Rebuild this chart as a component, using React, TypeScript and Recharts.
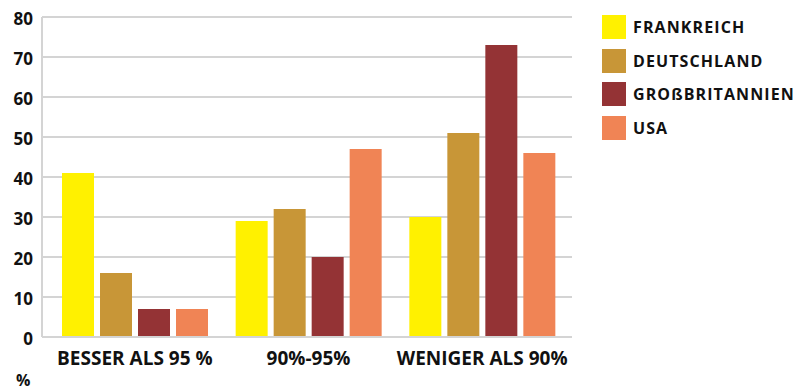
import { BarChart, Bar, XAxis, YAxis, CartesianGrid } from "recharts"

const categories = ["BESSER ALS 95 %", "90%-95%", "WENIGER ALS 90%"]
const frankreich = [41, 29, 30]
const deutschland = [16, 32, 51]
const grossbritannien = [7, 20, 73]
const usa = [7, 47, 46]
const yTicks = [0, 10, 20, 30, 40, 50, 60, 70, 80]

const series = [
  { key: "frankreich", name: "FRANKREICH", color: "#FFF100" },
  { key: "deutschland", name: "DEUTSCHLAND", color: "#C89637" },
  { key: "grossbritannien", name: "GROßBRITANNIEN", color: "#943335" },
  { key: "usa", name: "USA", color: "#F08455" },
]

const data = categories.map((cat, i) => ({
  cat,
  frankreich: frankreich[i],
  deutschland: deutschland[i],
  grossbritannien: grossbritannien[i],
  usa: usa[i],
}))

const FONT = "'Open Sans', sans-serif"
const GRID = "#D4D4D4"
const legendTops = [15, 49, 82, 116]

function Legend() {
  return (
    <>
      {series.map((s, i) => (
        <div
          key={s.key}
          style={{ position: "absolute", left: 602, top: legendTops[i], display: "flex", alignItems: "center", height: 24 }}
        >
          <div style={{ width: 24, height: 24, background: s.color }} />
          <span
            style={{
              marginLeft: 7,
              fontFamily: FONT,
              fontWeight: 700,
              fontSize: 16,
              letterSpacing: 1.1,
              color: "#111",
              whiteSpace: "nowrap",
            }}
          >
            {s.name}
          </span>
        </div>
      ))}
    </>
  )
}

export default function App() {
  return (
    <div style={{ position: "absolute", left: 0, top: 0, width: 799, height: 390, background: "#fff", overflow: "hidden" }}>
      <BarChart
        width={799}
        height={390}
        data={data}
        margin={{ top: 17, right: 227, bottom: 0, left: 0 }}
        barSize={32}
        barGap={6}
      >
        <CartesianGrid vertical={false} stroke={GRID} strokeWidth={2} />
        <XAxis
          dataKey="cat"
          height={53}
          padding={{ left: 6, right: 3 }}
          axisLine={{ stroke: GRID, strokeWidth: 2 }}
          tickLine={false}
          tickMargin={9}
          tick={{ fill: "#111", fontFamily: FONT, fontWeight: 700, fontSize: 19 }}
        />
        <YAxis
          width={42}
          domain={[0, 80]}
          ticks={yTicks}
          interval={0}
          axisLine={{ stroke: GRID, strokeWidth: 2 }}
          tickLine={false}
          tickSize={0}
          tickMargin={9}
          tick={{ fill: "#111", fontFamily: FONT, fontWeight: 700, fontSize: 17, dy: 2 }}
        />
        <YAxis
          yAxisId="right"
          orientation="right"
          width={0}
          domain={[0, 80]}
          tick={false}
          tickLine={false}
          axisLine={{ stroke: GRID, strokeWidth: 2 }}
        />
        {series.map((s) => (
          <Bar key={s.key} dataKey={s.key} name={s.name} fill={s.color} isAnimationActive={false} />
        ))}
      </BarChart>
      <Legend />
      {/* unit label under the value axis */}
      <div
        style={{
          position: "absolute",
          left: 16,
          top: 372,
          fontFamily: FONT,
          fontWeight: 700,
          fontSize: 16,
          lineHeight: "16px",
          color: "#111",
        }}
      >
        %
      </div>
    </div>
  )
}
